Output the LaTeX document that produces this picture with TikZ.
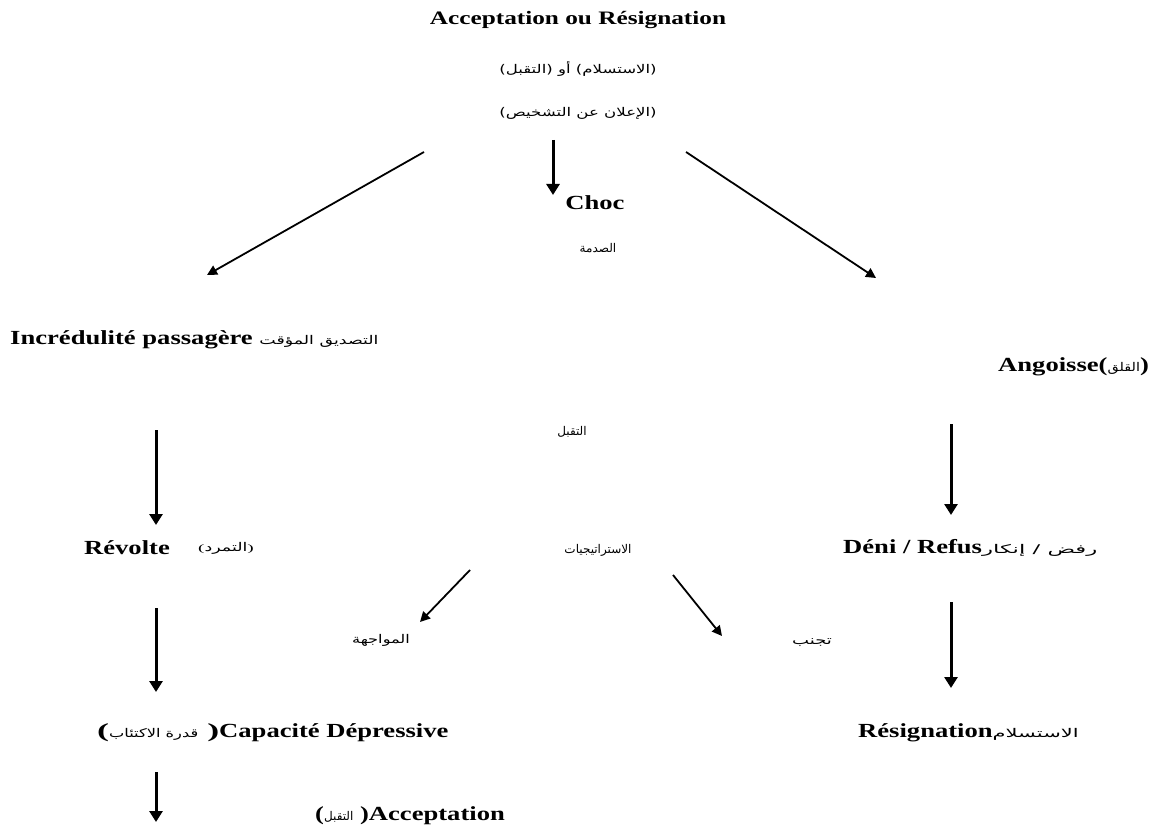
\documentclass[tikz,border=0pt]{standalone}
\usepackage{graphicx}
\usepackage{fontspec}
\setmainfont{Liberation Serif}[FakeStretch=1.33]
\newfontfamily\arfont[Script=Arabic]{DejaVu Sans}
\TeXXeTstate=1
\usetikzlibrary{arrows.meta}

% Arabic type: regular weight, small size
\newcommand\arf{\arfont\mdseries\fontsize{12}{14}\selectfont}

\tikzset{
  fr/.style={font=\bfseries\fontsize{20}{24}\selectfont, inner sep=0pt},
  arlabel/.style={font=\arf, inner sep=0pt},
  bigarrow/.style={line width=3pt, -{Triangle[width=13pt,length=11pt]}},
  slantarrow/.style={line width=1.8pt, -{Triangle[width=10pt,length=10pt]}},
}

\begin{document}
\begin{tikzpicture}[x=1pt,y=-1pt]
\useasboundingbox (0,0) rectangle (1157,832);

% heading
\node[fr, font=\bfseries\fontsize{19}{23}\selectfont] (title) at (578,20) {Acceptation ou Résignation};
\node[inner sep=0pt] (ortext) at (578,69) {\scalebox{1.38}[1]{\arf\beginR (الاستسلام) أو (التقبل)\endR}};
\node[inner sep=0pt] (announce) at (578,113) {\scalebox{1.38}[1]{\arf\beginR (الإعلان عن التشخيص)\endR}};

% first level
\node[fr] (choc) at (595,203) {Choc};
\node[arlabel] (sadma) at (598,248) {الصدمة};
\node[fr, anchor=west] (incred) at (10,340) {Incrédulité passagère \scalebox{1.45}[1]{\arf\beginR التصديق المؤقت\endR}};
\node[fr, anchor=west] (angoisse) at (998,367) {Angoisse(\scalebox{1.2}[1]{\arf القلق})};

% middle column
\node[arlabel] (taqabbul) at (572,432) {التقبل};
\node[arlabel] (strat) at (598,550) {الاستراتيجيات};
\node[inner sep=0pt] (muwajaha) at (381,640) {\scalebox{1.35}[1]{\arf المواجهة}};
\node[inner sep=0pt] (tajannub) at (812,643) {\scalebox{1.5}[1]{\arf تجنب}};

% second level
\node[fr] (revolte) at (127,548) {Révolte};
\node[inner sep=0pt] (tamarrud) at (226,548) {\scalebox{1.45}[1]{({\arf التمرد})}};
\node[fr, anchor=west] (deni) at (843,548) {Déni / Refus\scalebox{1.9}[1]{\arf\beginR رفض / إنكار\endR}};

% third level
\node[fr, anchor=west] (capacite) at (97,733) {\scalebox{1.35}[1]{({\arf\beginR قدرة الاكتئاب\endR}\ )}Capacité Dépressive};
\node[fr, anchor=west] (resign) at (858,733) {Résignation\scalebox{1.75}[1]{\arf الاستسلام}};

% last level
\node[fr, anchor=west] (accept) at (315,816) {({\arf التقبل} )Acceptation};

% arrow end points
\coordinate (a1s) at (424,152); \coordinate (a1e) at (207,275);
\coordinate (a2s) at (553,140); \coordinate (a2e) at (553,195);
\coordinate (a3s) at (686,152); \coordinate (a3e) at (876,278);
\coordinate (a4s) at (156,430); \coordinate (a4e) at (156,525);
\coordinate (a5s) at (951,424); \coordinate (a5e) at (951,515);
\coordinate (a6s) at (470,570); \coordinate (a6e) at (420,622);
\coordinate (a7s) at (673,575); \coordinate (a7e) at (722,636);
\coordinate (a8s) at (156,608); \coordinate (a8e) at (156,692);
\coordinate (a9s) at (951,602); \coordinate (a9e) at (951,688);
\coordinate (a10s) at (156,772); \coordinate (a10e) at (156,822);

% arrows
\draw[slantarrow] (a1s) -- (a1e);
\draw[bigarrow] (a2s) -- (a2e);
\draw[slantarrow] (a3s) -- (a3e);
\draw[bigarrow] (a4s) -- (a4e);
\draw[bigarrow] (a5s) -- (a5e);
\draw[slantarrow] (a6s) -- (a6e);
\draw[slantarrow] (a7s) -- (a7e);
\draw[bigarrow] (a8s) -- (a8e);
\draw[bigarrow] (a9s) -- (a9e);
\draw[bigarrow] (a10s) -- (a10e);
\end{tikzpicture}
\end{document}
